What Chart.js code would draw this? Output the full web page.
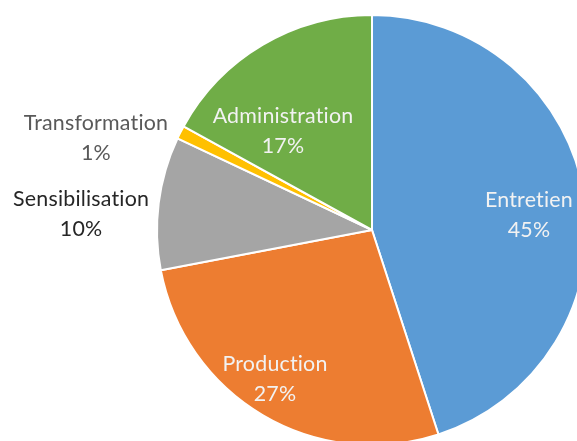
<!DOCTYPE html>
<html>
<head>
<meta charset="utf-8">
<script src="https://cdn.jsdelivr.net/npm/chart.js@4"></script>
<style>
  html, body { margin: 0; padding: 0; background: #fff; overflow: hidden; width: 577px; height: 441px; }
  #wrap { position: absolute; left: 0; top: 0; width: 600px; height: 460px; }
</style>
</head>
<body>
<div id="wrap"><canvas id="c"></canvas></div>
<script>
const categories = ["Entretien", "Production", "Sensibilisation", "Transformation", "Administration"];
const values = [45, 27, 10, 1, 17];
const percentLabels = ["45%", "27%", "10%", "1%", "17%"];
const colors = ["#5B9BD5", "#ED7D31", "#A5A5A5", "#FFC000", "#70AD47"];

// label placement relative to pie center, as fractions of the radius
const labelOffsets = [[0.730, -0.070], [-0.451, 0.693], [-1.353, -0.074], [-1.284, -0.428], [-0.414, -0.460]];
const labelColors = ["#F2F2F2", "#F2F2F2", "#262626", "#595959", "#F2F2F2"];

const labelPlugin = {
  id: 'sliceLabels',
  afterDatasetsDraw(chart) {
    const ctx = chart.ctx;
    const meta = chart.getDatasetMeta(0);
    ctx.save();
    // size the font so "Entretien" is about 88px wide, as in the reference
    ctx.font = '20px Lato, "Open Sans", sans-serif';
    try { ctx.letterSpacing = '0.2px'; } catch (e) {}
    const w = ctx.measureText('Entretien').width;
    const size = Math.round(20 * 88 / w * 10) / 10;
    ctx.font = size + 'px Lato, "Open Sans", sans-serif';
    ctx.textAlign = 'center';
    ctx.textBaseline = 'middle';
    meta.data.forEach((arc, i) => {
      const p = arc.getProps(['x', 'y', 'outerRadius'], true);
      const cx = p.x + labelOffsets[i][0] * p.outerRadius;
      const cy = p.y + labelOffsets[i][1] * p.outerRadius;
      ctx.fillStyle = labelColors[i];
      ctx.fillText(categories[i], cx, cy - 15);
      ctx.fillText(percentLabels[i], cx, cy + 15);
    });
    ctx.restore();
  }
};

new Chart(document.getElementById('c'), {
  type: 'pie',
  data: {
    labels: categories,
    datasets: [{
      data: values,
      backgroundColor: colors,
      borderColor: '#FFFFFF',
      borderWidth: 2
    }]
  },
  options: {
    responsive: true,
    maintainAspectRatio: false,
    animation: false,
    layout: { padding: { left: 156, top: 14, right: 12, bottom: 14 } },
    plugins: { legend: { display: false }, tooltip: { enabled: false } }
  },
  plugins: [labelPlugin]
});
</script>
</body>
</html>
